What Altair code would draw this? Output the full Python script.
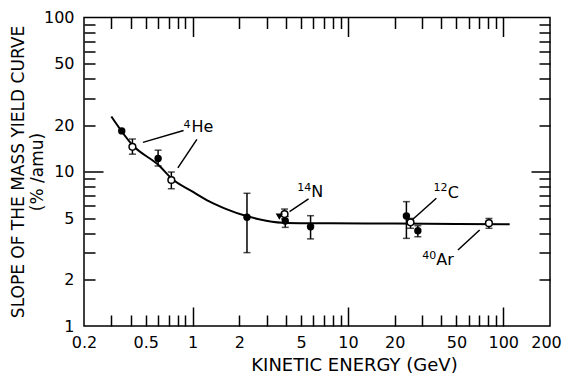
import altair as alt
import pandas as pd

# ---------------- data ----------------
curve_x = [0.30, 0.41, 0.613, 0.73, 1.0, 1.29, 1.65, 2.22, 2.98, 4.01, 7.6, 20, 50, 110]
curve_y = [22.8, 14.9, 10.9, 9.07, 7.43, 6.40, 5.73, 5.16, 4.82, 4.66, 4.63, 4.61, 4.58, 4.56]

filled_x = [0.35, 0.60, 2.24, 3.95, 5.75, 23.8, 28.2]
filled_y = [18.4, 12.2, 5.07, 4.80, 4.40, 5.16, 4.15]

open_x = [0.41, 0.73, 3.91, 25.3, 80.9]
open_y = [14.5, 8.84, 5.32, 4.70, 4.64]

tri_x = [3.62]
tri_y = [5.12]

err_x = [0.41, 0.60, 0.73, 2.24, 3.91, 3.95, 5.75, 23.8, 25.3, 28.2, 80.9]
err_lo = [13.0, 10.9, 7.76, 2.99, 4.95, 4.36, 3.67, 3.70, 4.30, 3.79, 4.30]
err_hi = [16.3, 13.8, 9.96, 7.25, 5.73, 5.12, 5.19, 6.40, 4.98, 4.47, 4.98]

elem_text = ["He", "N", "C", "Ar"]
elem_x = [0.985, 5.81, 44.0, 37.1]
elem_y = [18.2, 6.82, 6.79, 2.49]
sup_text = ["4", "14", "12", "40"]
sup_x = [0.875, 4.72, 35.6, 30.1]
sup_y = [19.1, 7.54, 7.54, 2.72]

lead_x1 = [0.479, 0.804, 4.21, 26.2, 70.5]
lead_y1 = [15.5, 10.6, 5.51, 4.92, 4.19]
lead_x2 = [0.875, 1.066, 5.58, 37.1, 51.1]
lead_y2 = [18.5, 16.2, 6.66, 6.73, 3.11]

x_labels = [0.2, 0.5, 1, 2, 5, 10, 20, 50, 100, 200]
y_labels = [1, 2, 5, 10, 20, 50, 100]
x_ticks = [0.3, 0.4, 0.5, 0.6, 0.7, 0.8, 0.9, 1, 2, 3, 4, 5, 6, 7, 8, 9,
           10, 20, 30, 40, 50, 60, 70, 80, 90, 100]
y_ticks = [2, 3, 4, 5, 6, 7, 8, 9, 10, 20, 30, 40, 50, 60, 70, 80, 90]

# ---------------- layout ----------------
W, H = 466, 308.5
FONT = "DejaVu Sans"
xs = alt.Scale(type="log", domain=[0.2, 200])
ys = alt.Scale(type="log", domain=[1, 100])

major = "datum.value == 1 || datum.value == 10 || datum.value == 100"
tsize = {"condition": {"test": major, "value": 19}, "value": 11}


def tick_axis(values, orient, offset):
    return alt.Axis(values=values, orient=orient, offset=offset, labels=False,
                    domain=False, grid=False, ticks=True, tickSize=tsize,
                    tickWidth=1.5, tickColor="black", title=None)


main_x = alt.Axis(values=x_labels, format="~g", ticks=False, tickSize=0, domain=False,
                  grid=False, labelFont=FONT, labelFontSize=16, labelColor="black",
                  labelPadding=8, labelOverlap=False, labelFlush=False,
                  labelOffset={"condition": {"test": "datum.value == 200", "value": -4}, "value": 0},
                  title="KINETIC ENERGY (GeV)", titleFont=FONT, titleFontSize=18,
                  titleFontWeight="normal", titleColor="black", titleX=270, titleY=44,
                  titleBaseline="alphabetic", titleAlign="center", orient="bottom")
main_y = alt.Axis(values=y_labels, format="~g", ticks=False, tickSize=0, domain=False,
                  grid=False, labelFont=FONT, labelFontSize=16, labelColor="black",
                  labelPadding=10, labelOverlap=False, labelFlush=False,
                  title=["SLOPE OF THE MASS YIELD CURVE", "(% /amu)"], titleFont=FONT,
                  titleFontSize=17, titleFontWeight="normal", titleColor="black",
                  titleLineHeight=19, titleX=-57, titleY=154, titleAngle=270,
                  titleAlign="center", titleBaseline="bottom", orient="left")

curve_df = pd.DataFrame({"x": curve_x, "y": curve_y})
filled_df = pd.DataFrame({"x": filled_x, "y": filled_y})
open_df = pd.DataFrame({"x": open_x, "y": open_y})
tri_df = pd.DataFrame({"x": tri_x, "y": tri_y})
err_df = pd.DataFrame({"x": err_x, "lo": err_lo, "hi": err_hi})
cap_df = pd.DataFrame({"x": err_x + err_x, "y": err_lo + err_hi})
elem_df = pd.DataFrame({"t": elem_text, "x": elem_x, "y": elem_y})
sup_df = pd.DataFrame({"t": sup_text, "x": sup_x, "y": sup_y})
lead_df = pd.DataFrame({"x": lead_x1, "y": lead_y1, "x2": lead_x2, "y2": lead_y2})

curve = alt.Chart(curve_df).mark_line(color="black", strokeWidth=2, interpolate="monotone").encode(
    x=alt.X("x:Q", scale=xs, axis=main_x),
    y=alt.Y("y:Q", scale=ys, axis=main_y),
)

errs = alt.Chart(err_df).mark_rule(color="black", strokeWidth=1.5).encode(
    x=alt.X("x:Q", scale=xs, axis=tick_axis(x_ticks, "bottom", -H)),
    y=alt.Y("lo:Q", scale=ys, axis=tick_axis(y_ticks, "left", -W)),
    y2="hi:Q",
)

caps = alt.Chart(cap_df).mark_tick(orient="horizontal", size=7, thickness=1.5, color="black").encode(
    x=alt.X("x:Q", scale=xs, axis=None),
    y=alt.Y("y:Q", scale=ys, axis=None),
)

filled = alt.Chart(filled_df).mark_point(shape="circle", filled=True, color="black", size=55, opacity=1).encode(
    x=alt.X("x:Q", scale=xs, axis=tick_axis(x_ticks, "top", -H)),
    y=alt.Y("y:Q", scale=ys, axis=tick_axis(y_ticks, "right", -W)),
)

opens = alt.Chart(open_df).mark_point(shape="circle", filled=False, fill="white", fillOpacity=1,
                                      stroke="black", strokeWidth=1.5, size=45, opacity=1).encode(
    x=alt.X("x:Q", scale=xs, axis=None),
    y=alt.Y("y:Q", scale=ys, axis=None),
)

tri = alt.Chart(tri_df).mark_point(shape="triangle-down", filled=True, color="black", size=55, opacity=1).encode(
    x=alt.X("x:Q", scale=xs, axis=None),
    y=alt.Y("y:Q", scale=ys, axis=None),
)

leads = alt.Chart(lead_df).mark_rule(color="black", strokeWidth=1.5).encode(
    x=alt.X("x:Q", scale=xs, axis=None),
    y=alt.Y("y:Q", scale=ys, axis=None),
    x2="x2:Q",
    y2="y2:Q",
)

elems = alt.Chart(elem_df).mark_text(font=FONT, fontSize=16, align="left", baseline="alphabetic", color="black").encode(
    x=alt.X("x:Q", scale=xs, axis=None),
    y=alt.Y("y:Q", scale=ys, axis=None),
    text="t:N",
)

sups = alt.Chart(sup_df).mark_text(font=FONT, fontSize=11, align="left", baseline="alphabetic", color="black").encode(
    x=alt.X("x:Q", scale=xs, axis=None),
    y=alt.Y("y:Q", scale=ys, axis=None),
    text="t:N",
)

chart = alt.layer(curve, errs, caps, filled, opens, tri, leads, elems, sups).resolve_axis(
    x="independent", y="independent"
).properties(
    width=W, height=H,
    autosize=alt.AutoSizeParams(type="none"),
    padding={"left": 76, "top": 9.5, "right": 12, "bottom": 48},
    background="white",
).configure_view(stroke="black", strokeWidth=1.5)

chart.save("out.html", embed_options={"renderer": "svg", "actions": False})
